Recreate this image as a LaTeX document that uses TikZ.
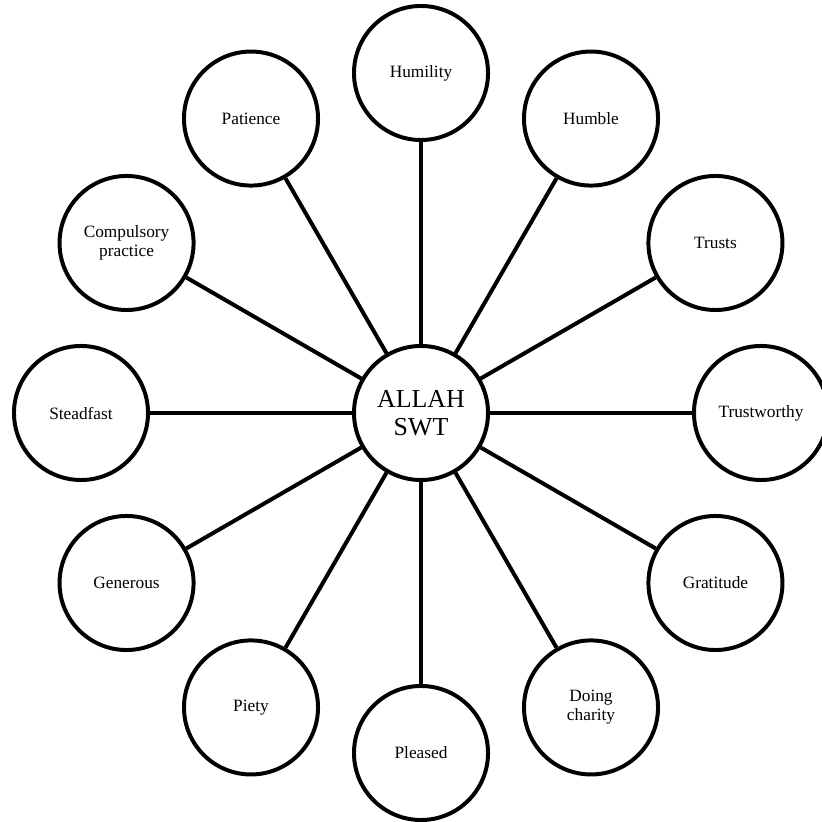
\documentclass[tikz,border=0pt]{standalone}
\usepackage{fontspec}
\setmainfont{Liberation Serif}
\usetikzlibrary{calc}
\begin{document}
\begin{tikzpicture}[x=0.025cm,y=0.025cm,
  ring/.style={circle,draw=black,line width=2.83pt,fill=white,
    minimum size=3.35cm,inner sep=0pt,align=center,
    font=\fontsize{12.3}{13.6}\selectfont},
  hub/.style={ring,font=\fontsize{18.4}{19.6}\selectfont},
  spoke/.style={draw=black,line width=2.83pt}]
\useasboundingbox (0,0) rectangle (822,822);
\coordinate (c) at (421,409);
\node[hub] (allah) at (c) {ALLAH\\SWT};
\foreach \ang/\name/\txt in {
  90/humility/Humility,
  60/humble/Humble,
  30/trusts/Trusts,
  0/trustworthy/Trustworthy,
  -30/gratitude/Gratitude,
  -60/charity/{Doing\\charity},
  -90/pleased/Pleased,
  -120/piety/Piety,
  -150/generous/Generous,
  180/steadfast/Steadfast,
  150/compulsory/{Compulsory\\practice},
  120/patience/Patience}
{
  \node[ring] (\name) at ($(c)+(\ang:340)$) {\txt};
  \draw[spoke] (allah) -- (\name);
}
\end{tikzpicture}
\end{document}
